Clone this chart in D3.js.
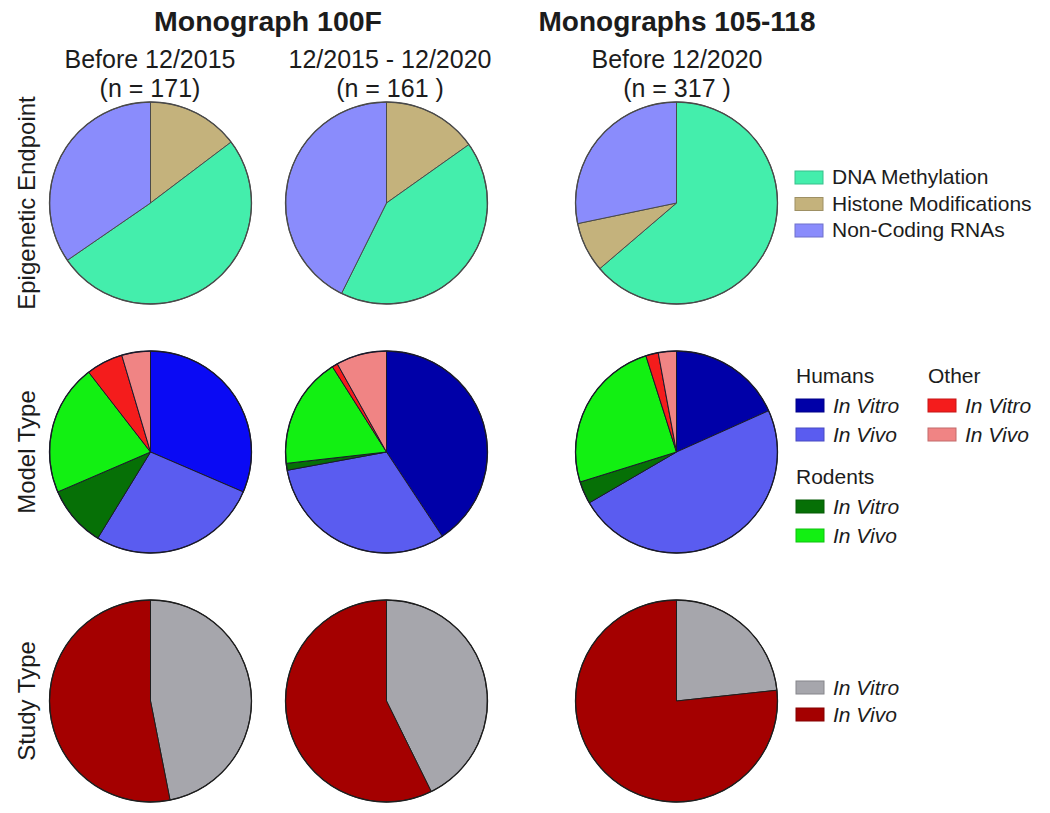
<!DOCTYPE html>
<html>
<head>
<meta charset="utf-8">
<script src="https://cdn.jsdelivr.net/npm/d3@7"></script>
<style>
  html, body { margin: 0; padding: 0; background: #fff; }
  svg { display: block; font-family: "Liberation Sans", Arial, Helvetica, sans-serif; }
</style>
</head>
<body>
<svg id="chart" width="1050" height="813"></svg>
<script>
// ---------------- DATA ----------------
const groupTitles = ["Monograph 100F", "Monographs 105-118"];
const columnTitles = ["Before 12/2015", "12/2015 - 12/2020", "Before 12/2020"];
const columnN = ["(n = 171)", "(n = 161 )", "(n = 317 )"];
const rowLabels = ["Epigenetic Endpoint", "Model Type", "Study Type"];

// Epigenetic endpoint (percent), slices listed clockwise from 12 o'clock
const endpointCategories = ["DNA Methylation", "Histone Modifications", "Non-Coding RNAs"];
const endpointOrder = [
  ["Histone Modifications", "DNA Methylation", "Non-Coding RNAs"],
  ["Histone Modifications", "DNA Methylation", "Non-Coding RNAs"],
  ["DNA Methylation", "Histone Modifications", "Non-Coding RNAs"]
];
const endpointValues = [
  [14.7, 50.7, 34.6],
  [15.2, 42.2, 42.7],
  [63.8, 8.0, 28.3]
];

// Model type (percent), clockwise from 12 o'clock
const modelCategories = ["Humans In Vitro", "Humans In Vivo", "Rodents In Vitro", "Rodents In Vivo", "Other In Vitro", "Other In Vivo"];
const modelValues = [
  [31.5, 27.3, 9.8, 21.0, 5.9, 4.6],
  [40.7, 31.4, 1.1, 17.8, 0.9, 8.1],
  [18.3, 48.3, 3.6, 24.9, 2.0, 2.9]
];

// Study type (percent), clockwise from 12 o'clock
const studyCategories = ["In Vitro", "In Vivo"];
const studyValues = [
  [46.9, 53.1],
  [42.7, 57.3],
  [23.3, 76.7]
];

// Legend groups
const modelLegendGroups = ["Humans", "Other", "Rodents"];
const modelLegendItems = ["In Vitro", "In Vivo"];

// ---------------- STYLES ----------------
const endpointColors = {
  "DNA Methylation": "#44eeac",
  "Histone Modifications": "#c4b27c",
  "Non-Coding RNAs": "#8a8cfc"
};
const modelColors = {
  "Humans In Vitro": "#0000a8",
  "Humans In Vivo": "#5a5cf0",
  "Rodents In Vitro": "#067006",
  "Rodents In Vivo": "#12f012",
  "Other In Vitro": "#f41c1c",
  "Other In Vivo": "#f08484"
};
const modelColorOverrideCol0 = { "Humans In Vitro": "#0a0af4" };
const studyColors = { "In Vitro": "#a6a6ac", "In Vivo": "#a40000" };

const textColor = "#1c1c1c";
const R = 101;

// ---------------- LAYOUT ----------------
const svg = d3.select("#chart");
const xCol = d3.scaleOrdinal().domain(columnTitles).range([150.5, 386.5, 676.5]);
const yRow = d3.scalePoint().domain(rowLabels).range([203, 701]);

const pie = d3.pie().sort(null).value(d => d.value).startAngle(0).endAngle(2 * Math.PI);
const arc = d3.arc().innerRadius(0).outerRadius(R);

function drawPie(cx, cy, slices, colorFn, stroke) {
  const g = svg.append("g").attr("transform", `translate(${cx},${cy})`);
  g.selectAll("path")
    .data(pie(slices))
    .join("path")
    .attr("d", arc)
    .attr("fill", d => colorFn(d.data.key))
    .attr("stroke", stroke)
    .attr("stroke-width", 1)
    .attr("stroke-linejoin", "round");
  g.append("circle").attr("r", R).attr("fill", "none").attr("stroke", stroke).attr("stroke-width", 1.3);
}

columnTitles.forEach((col, i) => {
  const cx = xCol(col);
  const ep = endpointOrder[i].map((k, j) => ({ key: k, value: endpointValues[i][j] }));
  drawPie(cx, yRow(rowLabels[0]), ep, k => endpointColors[k], "#4a4a4a");
  const md = modelCategories.map((k, j) => ({ key: k, value: modelValues[i][j] }));
  drawPie(cx, yRow(rowLabels[1]), md,
    k => (i === 0 && modelColorOverrideCol0[k]) ? modelColorOverrideCol0[k] : modelColors[k], "#1a1a2a");
  const st = studyCategories.map((k, j) => ({ key: k, value: studyValues[i][j] }));
  drawPie(cx, yRow(rowLabels[2]), st, k => studyColors[k], "#1e1e1e");
});

// Group titles
svg.append("text")
  .attr("x", 268)
  .attr("y", 31)
  .attr("text-anchor", "middle")
  .attr("font-size", 28.5).attr("font-weight", "bold").attr("fill", textColor)
  .text(groupTitles[0]);
svg.append("text")
  .attr("x", 677)
  .attr("y", 31)
  .attr("text-anchor", "middle")
  .attr("font-size", 28).attr("font-weight", "bold").attr("fill", textColor)
  .text(groupTitles[1]);

// Column titles
const colTitleX = [150, 390, 677];
columnTitles.forEach((col, i) => {
  svg.append("text")
    .attr("x", colTitleX[i]).attr("y", 68)
    .attr("text-anchor", "middle").attr("font-size", 25).attr("fill", textColor)
    .text(col);
  svg.append("text")
    .attr("x", colTitleX[i]).attr("y", 97)
    .attr("text-anchor", "middle").attr("font-size", 25).attr("fill", textColor)
    .text(columnN[i]);
});

// Row labels
rowLabels.forEach(lbl => {
  svg.append("text")
    .attr("transform", `translate(35,${yRow(lbl)}) rotate(-90)`)
    .attr("text-anchor", "middle")
    .attr("font-size", 24).attr("fill", textColor)
    .text(lbl);
});

// ---------------- LEGENDS ----------------
function swatch(x, y, color) {
  svg.append("rect")
    .attr("x", x).attr("y", y).attr("width", 28).attr("height", 13)
    .attr("fill", color)
    .attr("stroke", d3.color(color).darker(0.6))
    .attr("stroke-width", 1);
}
function legendText(x, y, txt, italic) {
  svg.append("text")
    .attr("x", x).attr("y", y)
    .attr("font-size", 21).attr("fill", textColor)
    .attr("font-style", italic ? "italic" : "normal")
    .text(txt);
}

endpointCategories.forEach((c, j) => {
  const y = 171 + j * 26.5;
  swatch(795, y, endpointColors[c]);
  legendText(832, y + 13, c, false);
});

const groupPos = {
  "Humans": { x: 796, y: 383 },
  "Other": { x: 928, y: 383 },
  "Rodents": { x: 796, y: 484 }
};
modelLegendGroups.forEach(grp => {
  const p = groupPos[grp];
  legendText(p.x, p.y, grp, false);
  modelLegendItems.forEach((it, j) => {
    const y = p.y + 16 + j * 29;
    swatch(p.x, y, modelColors[grp + " " + it]);
    legendText(p.x + 37, y + 14, it, true);
  });
});

studyCategories.forEach((c, j) => {
  const y = 681 + j * 27;
  swatch(796, y, studyColors[c]);
  legendText(833, y + 14, c, true);
});
</script>
</body>
</html>
